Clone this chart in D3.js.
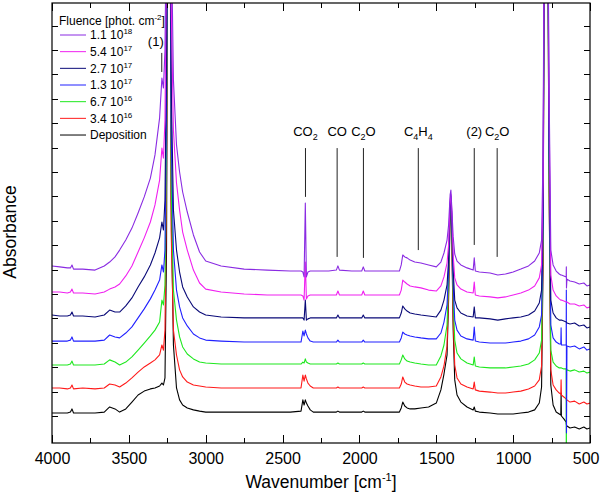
<!DOCTYPE html>
<html>
<head>
<meta charset="utf-8">
<script src="https://cdn.jsdelivr.net/npm/d3@7"></script>
<style>
body { margin: 0; background: #fff; }
svg { font-family: "Liberation Sans", Arial, sans-serif; }
</style>
</head>
<body>
<svg id="chart" width="600" height="496"></svg>
<script>
// wavenumber grid (cm-1), shared by every spectrum
const wavenumbers = [
  4000, 3950, 3900, 3880, 3870, 3860, 3800, 3720, 3660, 3625,
  3590, 3560, 3520, 3480, 3440, 3400, 3360, 3330, 3300, 3285,
  3275, 3265, 3255, 3245, 3235, 3225, 3210, 3190, 3170, 3150,
  3120, 3080, 3040, 3000, 2900, 2750, 2600, 2450, 2380, 2368,
  2360, 2352, 2345, 2335, 2320, 2300, 2200, 2150, 2140, 2130,
  2050, 1985, 1975, 1965, 1850, 1740, 1728, 1718, 1705, 1690,
  1670, 1640, 1600, 1550, 1500, 1470, 1450, 1430, 1420, 1410,
  1405, 1400, 1390, 1380, 1365, 1340, 1300, 1260, 1253, 1246,
  1220, 1150, 1100, 1050, 1000, 950, 900, 860, 830, 815,
  805, 795, 786, 777, 768, 755, 740, 720, 700, 690,
  688, 686, 670, 655, 654, 653, 650, 630, 600, 570,
  540, 520, 500];

// absorbance of each spectrum (before the vertical offset)
const deposition = [
  .012,.012,.012,.016,.029,.012,.012,.012,.016,.037,
  .029,.016,.029,.057,.086,.102,.111,.115,.123,.135,
  .127,.156,.680,2.525,2.934,.885,.291,.115,.066,.045,
  .033,.025,.020,.016,.016,.016,.016,.016,.020,.066,
  .045,.066,.053,.041,.025,.016,.016,.016,.020,.016,
  .016,.016,.020,.016,.016,.016,.033,.057,.041,.033,
  .029,.029,.033,.037,.053,.107,.172,.250,.475,.824,
  .865,.762,.352,.148,.086,.057,.037,.025,.037,.020,
  .016,.012,.008,.008,.008,.012,.016,.025,.053,.119,
  .639,2.525,2.934,2.525,1.090,.127,.045,.016,.008,.004,
  .094,0,-.012,-.025,-.033,-.037,-.041,-.049,-.045,-.053,
  -.045,-.053,-.049];
const fluence_3_4e16 = [
  .015,.015,.011,.015,.027,.011,.015,.011,.015,.031,
  .027,.019,.035,.056,.080,.101,.117,.130,.150,.191,
  .170,.252,.867,2.425,2.834,.662,.252,.150,.089,.060,
  .039,.027,.023,.019,.015,.015,.015,.015,.015,.068,
  .043,.068,.052,.035,.023,.015,.015,.015,.019,.015,
  .015,.015,.019,.015,.015,.015,.031,.060,.039,.031,
  .027,.023,.019,.019,.023,.060,.105,.187,.416,.744,
  .785,.683,.293,.109,.056,.031,.019,.011,.039,.007,
  .002,-.002,-.006,-.006,-.002,.002,.011,.023,.048,.105,
  .601,2.425,2.834,2.425,.990,.089,.027,.007,-.006,-.010,
  .048,-.014,-.022,-.030,-.034,-.034,-.034,-.043,-.039,-.051,
  -.043,-.051,-.047];
const fluence_6_7e16 = [
  .009,.009,.009,.013,.025,.009,.009,.009,.013,.030,
  .021,.009,.021,.042,.070,.099,.128,.152,.185,.275,
  .255,.337,.890,2.325,2.734,.767,.316,.193,.124,.083,
  .054,.034,.021,.017,.013,.013,.013,.013,.013,.021,
  .017,.034,.021,.017,.013,.013,.013,.013,.017,.013,
  .013,.013,.017,.013,.013,.013,.030,.050,.034,.025,
  .021,.017,.013,.009,.009,.046,.091,.173,.357,.644,
  .685,.603,.275,.111,.058,.034,.017,.009,.042,.005,
  .001,-.003,-.003,-.003,.001,.005,.013,.030,.058,.111,
  .542,2.325,2.734,2.325,.890,.070,.021,.005,-.003,-.003,
  -.003,-.003,-.007,-.007,-.626,-.011,-.011,-.016,-.011,-.020,
  -.016,-.024,-.020];
const fluence_1_3e17 = [
  .007,.007,.007,.011,.024,.007,.007,.007,.011,.032,
  .024,.020,.040,.065,.102,.139,.180,.216,.257,.319,
  .290,.380,.995,2.225,2.634,.872,.380,.216,.147,.102,
  .069,.036,.020,.011,.007,.003,.003,.003,.003,.048,
  .028,.052,.036,.020,.007,.003,.003,.003,.011,.003,
  .003,.003,.011,.003,.003,.003,.020,.044,.036,.032,
  .028,.024,.020,.016,.016,.040,.085,.155,.298,.565,
  .593,.524,.237,.093,.052,.028,.016,.011,.065,.007,
  .003,-.001,-.001,-.001,.003,.007,.016,.032,.065,.114,
  .503,2.225,2.634,2.225,.913,.073,.020,.003,-.005,-.005,
  .061,-.009,-.009,-.009,.216,-.369,-.013,-.017,-.013,-.025,
  -.017,-.030,-.025];
const fluence_2_7e17 = [
  .014,.010,.010,.014,.026,.010,.010,.006,.014,.034,
  .026,.026,.051,.084,.129,.170,.219,.268,.330,.395,
  .362,.485,1.100,2.125,2.534,.977,.444,.280,.190,.129,
  .088,.047,.026,.014,.006,.002,.002,.002,.002,.002,
  -.007,.075,-.007,-.002,.002,.002,.002,.002,.014,.002,
  .002,.002,.014,.002,.002,.002,.022,.051,.039,.030,
  .022,.018,.014,.010,.006,.034,.075,.137,.239,.465,
  .502,.436,.198,.075,.043,.022,.010,.006,.047,.002,
  .002,-.002,-.007,-.002,.002,.006,.014,.030,.063,.116,
  .485,2.125,2.534,2.125,.895,.075,.022,.002,-.007,-.007,
  -.007,-.007,-.011,-.015,-.015,-.015,-.019,-.023,-.019,-.031,
  -.027,-.039,-.035];
const fluence_5_4e17 = [
  .008,.008,.004,.008,.020,.004,.004,0,.008,.020,
  .029,.041,.074,.115,.172,.230,.295,.365,.467,.598,
  .557,.713,1.410,2.025,2.434,1.205,.672,.455,.344,.254,
  .180,.098,.045,.020,.008,0,-.004,-.004,-.004,-.008,
  -.025,.131,-.020,-.008,-.004,-.004,-.004,-.004,.012,-.004,
  -.004,-.004,.012,-.004,-.004,-.004,.016,.057,.049,.041,
  .033,.029,.025,.016,.012,.033,.070,.127,.201,.385,
  .410,.352,.160,.066,.037,.020,.008,.004,.049,-.004,
  -.008,-.012,-.016,-.012,-.004,.004,.016,.033,.066,.119,
  .467,2.025,2.434,2.025,.877,.078,.016,-.008,-.020,-.025,
  -.025,-.025,-.029,-.033,-.033,-.033,-.033,-.041,-.041,-.049,
  -.045,-.057,-.053];
const fluence_1_1e18 = [
  .015,.011,.007,.007,.019,.002,.002,-.002,.015,.031,
  .052,.080,.121,.170,.232,.298,.375,.470,.622,.785,
  .744,.900,1.515,1.925,2.334,1.433,.777,.511,.400,.318,
  .236,.142,.072,.035,.015,.002,-.002,-.006,-.006,-.010,
  -.030,.273,-.030,-.010,-.006,-.006,-.006,-.002,.015,-.002,
  -.006,-.006,.011,-.006,-.006,-.006,.019,.060,.052,.048,
  .039,.031,.027,.019,.011,.031,.068,.121,.183,.306,
  .326,.265,.134,.064,.035,.019,.007,-.002,.048,-.006,
  -.010,-.014,-.022,-.018,-.010,.002,.015,.035,.068,.121,
  .490,1.925,2.334,1.925,.859,.080,.019,-.006,-.018,-.022,
  -.022,-.022,-.026,-.030,.011,-.075,-.039,-.047,-.051,-.059,
  -.055,-.067,-.063];

// drawing order: deposition at the bottom, highest fluence on top
const spectra = [deposition, fluence_3_4e16, fluence_6_7e16, fluence_1_3e17,
                 fluence_2_7e17, fluence_5_4e17, fluence_1_1e18];
const offsets = [0, 0.1, 0.2, 0.3, 0.4, 0.5, 0.6];
const colors = ["#000000", "#ff1a1a", "#1ee81e", "#2020ff", "#0a0a78", "#f020f0", "#8a2be2"];

// legend, top to bottom
const legendMantissa = ["1.1", "5.4", "2.7", "1.3", "6.7", "3.4", "Deposition"];
const legendExponent = ["18", "17", "17", "17", "16", "16", ""];

// band assignments
const bandLabels = [
  [["(1)", ""]],
  [["CO", ""], ["2", "sub"]],
  [["CO", ""]],
  [["C", ""], ["2", "sub"], ["O", ""]],
  [["C", ""], ["4", "sub"], ["H", ""], ["4", "sub"]],
  [["(2)", ""]],
  [["C", ""], ["2", "sub"], ["O", ""]]
];
const bandWavenumber = [3286, 2351, 2145, 1974, 1617, 1253, 1104];
const bandTop = [1.488, 1.098, 1.098, 1.098, 1.098, 1.098, 1.098];
const bandBottom = [1.410, 0.898, 0.652, 0.648, 0.680, 0.701, 0.652];

const xMajor = [4000, 3500, 3000, 2500, 2000, 1500, 1000, 500];
const xMinor = [3750, 3250, 2750, 2250, 1750, 1250, 750];
const yTicks = [0, 0.1, 0.2, 0.3, 0.4, 0.5, 0.6, 0.7, 0.8, 0.9, 1.0, 1.1, 1.2, 1.3, 1.4, 1.5, 1.6];

const plotLeft = 52, plotRight = 590, plotTop = 3, plotBottom = 443;

const svg = d3.select("#chart");

const x = d3.scaleLinear().domain([4000, 500]).range([plotLeft, plotRight]);
const y = d3.scaleLinear().domain([-0.1107, 1.6926]).range([plotBottom, plotTop]);

svg.append("clipPath").attr("id", "plot-clip")
  .append("rect")
  .attr("x", plotLeft).attr("y", plotTop)
  .attr("width", plotRight - plotLeft).attr("height", plotBottom - plotTop);

// spectra
const line = d3.line()
  .x(d => x(d[0]))
  .y(d => y(d[1]));

const curves = svg.append("g").attr("clip-path", "url(#plot-clip)");
spectra.forEach(function(vals, i) {
  const pts = wavenumbers.map((w, j) => [w, vals[j] + offsets[i]]);
  curves.append("path")
    .datum(pts)
    .attr("fill", "none")
    .attr("stroke", colors[i])
    .attr("stroke-width", 1.1)
    .attr("stroke-linejoin", "round")
    .attr("d", line);
});

// axes, all ticks pointing inward
function styleAxis(g) {
  g.select(".domain").remove();
  g.selectAll("line").attr("stroke", "#000").attr("shape-rendering", "crispEdges");
  g.selectAll("text").attr("fill", "#000").attr("font-size", "16px")
    .attr("font-family", "Liberation Sans, Arial, sans-serif");
}
const xAxisBottom = svg.append("g").attr("transform", `translate(0,${plotBottom})`)
  .call(d3.axisBottom(x).tickValues(xMajor).tickSize(-8).tickPadding(10).tickFormat(d3.format("d")))
  .call(styleAxis);
// keep the last label inside the page
xAxisBottom.selectAll("text").filter(d => d === 500)
  .attr("text-anchor", "end").attr("dx", 9);
svg.append("g").attr("transform", `translate(0,${plotBottom})`)
  .call(d3.axisBottom(x).tickValues(xMinor).tickSize(-5).tickFormat(""))
  .call(styleAxis);
svg.append("g").attr("transform", `translate(0,${plotTop})`)
  .call(d3.axisTop(x).tickValues(xMajor).tickSize(-8).tickFormat(""))
  .call(styleAxis);
svg.append("g").attr("transform", `translate(0,${plotTop})`)
  .call(d3.axisTop(x).tickValues(xMinor).tickSize(-5).tickFormat(""))
  .call(styleAxis);
svg.append("g").attr("transform", `translate(${plotLeft},0)`)
  .call(d3.axisLeft(y).tickValues(yTicks).tickSize(-6).tickFormat(""))
  .call(styleAxis);
svg.append("g").attr("transform", `translate(${plotRight},0)`)
  .call(d3.axisRight(y).tickValues(yTicks).tickSize(-6).tickFormat(""))
  .call(styleAxis);

svg.append("rect")
  .attr("x", plotLeft).attr("y", plotTop)
  .attr("width", plotRight - plotLeft).attr("height", plotBottom - plotTop)
  .attr("fill", "none").attr("stroke", "#000").attr("stroke-width", 1.2);

// axis titles
const xt = svg.append("text")
  .attr("x", (plotLeft + plotRight) / 2).attr("y", 488)
  .attr("text-anchor", "middle").attr("font-size", "17.5px");
xt.append("tspan").text("Wavenumber [cm");
xt.append("tspan").attr("dy", -7).attr("font-size", "11px").text("-1");
xt.append("tspan").attr("dy", 7).text("]");

svg.append("text")
  .attr("transform", "translate(16,232) rotate(-90)")
  .attr("text-anchor", "middle").attr("font-size", "17.5px")
  .text("Absorbance");

// legend
const legend = svg.append("g").attr("font-size", "12px");
const lt = legend.append("text").attr("x", 59).attr("y", 25);
lt.append("tspan").text("Fluence [phot. cm");
lt.append("tspan").attr("dy", -5).attr("font-size", "8px").text("-2");
lt.append("tspan").attr("dy", 5).text("]");

legendMantissa.forEach(function(m, i) {
  const ly = 35 + i * 16.67;
  const c = colors[colors.length - 1 - i];
  legend.append("line")
    .attr("x1", 60).attr("x2", 86).attr("y1", ly).attr("y2", ly)
    .attr("stroke", c).attr("stroke-width", 1);
  const t = legend.append("text").attr("x", 90).attr("y", ly + 4.3);
  if (legendExponent[i]) {
    t.append("tspan").text(m + " 10");
    t.append("tspan").attr("dy", -5).attr("font-size", "8px").text(legendExponent[i]);
  } else {
    t.text(m);
  }
});

// band markers
const bands = svg.append("g").attr("font-size", "13px");
bandLabels.forEach(function(parts, i) {
  const bx = x(bandWavenumber[i]);
  bands.append("line")
    .attr("x1", bx).attr("x2", bx)
    .attr("y1", y(bandTop[i])).attr("y2", y(bandBottom[i]))
    .attr("stroke", "#222").attr("stroke-width", 1);
  const first = i === 0;
  const t = bands.append("text")
    .attr("x", first ? bx + 2 : bx)
    .attr("y", y(bandTop[i]) - (first ? 7 : 12))
    .attr("text-anchor", first ? "end" : "middle");
  let shifted = false;
  parts.forEach(function(p) {
    const s = t.append("tspan").text(p[0]);
    if (p[1] === "sub") {
      s.attr("font-size", "9px").attr("dy", shifted ? 0 : 4);
      shifted = true;
    } else if (shifted) {
      s.attr("dy", -4);
      shifted = false;
    }
  });
});
</script>
</body>
</html>
